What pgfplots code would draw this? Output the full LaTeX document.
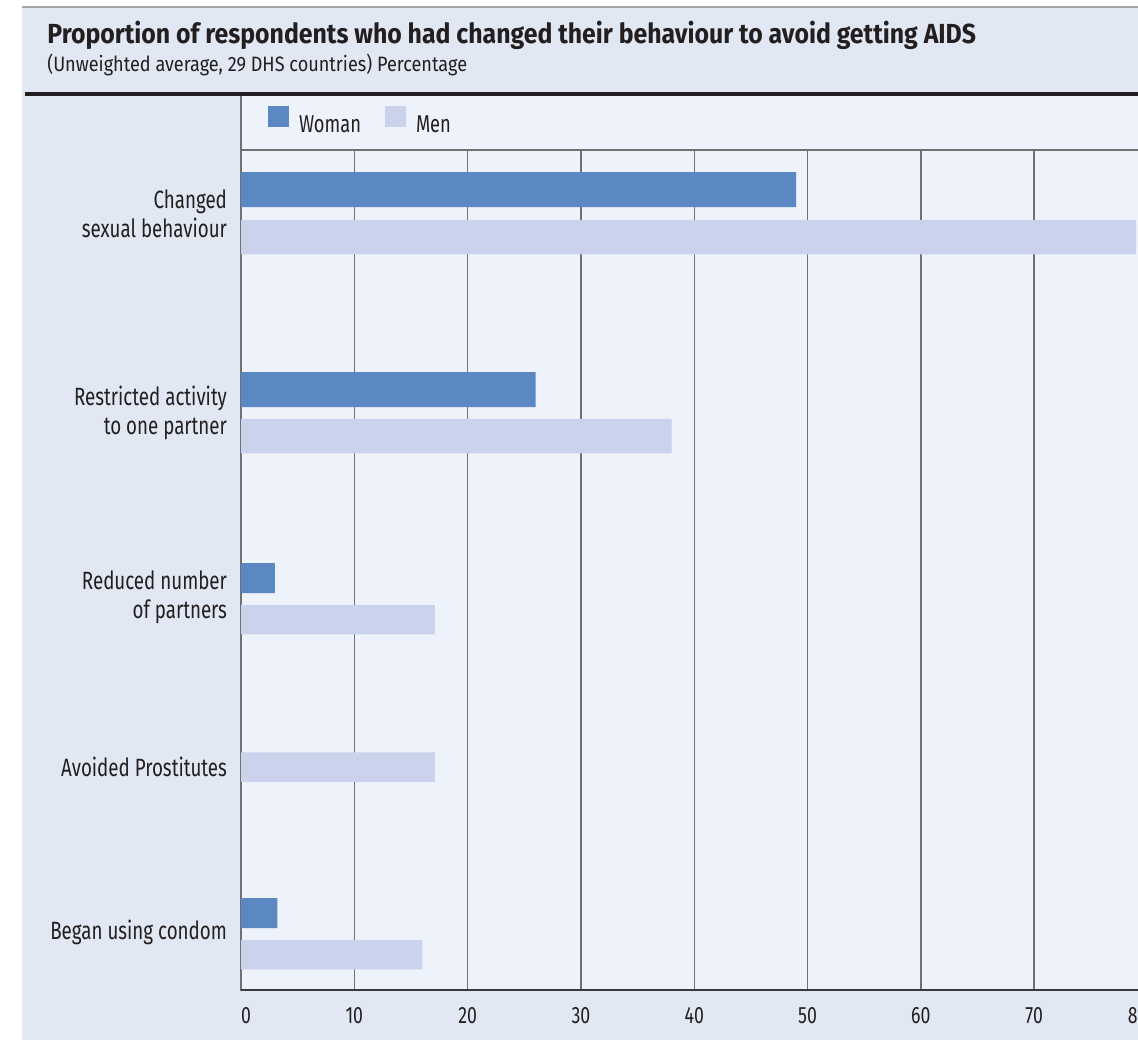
\documentclass[border=0pt]{standalone}
\usepackage{pgfplots}
\pgfplotsset{compat=1.18}
\usepackage{fontspec}
\setmainfont{Fira Sans}[FakeStretch=0.75]
\newfontfamily\titlefont{Fira Sans}[FakeStretch=0.90]
\newfontfamily\subfont{Fira Sans}[FakeStretch=0.87]
\definecolor{outerbg}{HTML}{E1E7F3}
\definecolor{panelbg}{HTML}{EEF2FA}
\definecolor{women}{HTML}{5B87C2}
\definecolor{men}{HTML}{CAD3EB}
\definecolor{textcol}{HTML}{231F20}
\definecolor{gridcol}{HTML}{707070}
\definecolor{axisdark}{HTML}{3A3A3A}
\begin{document}
\begin{tikzpicture}
\useasboundingbox (0,0) rectangle (569pt,520pt);
\begin{scope}[x=0.5pt,y=-0.5pt,yshift=520pt]
\fill[outerbg] (22,7) rectangle (1138,1040);
\draw[gray!70, line width=0.6pt] (22,7) -- (1138,7);
\fill[panelbg] (241,96) rectangle (1138,990);
\fill[textcol] (25,92) rectangle (1138,96);
\draw[gridcol, line width=0.75pt] (241,96) -- (241,150);
\node[anchor=base west, inner sep=0pt, text=textcol, font=\titlefont\fontsize{13.8}{16}\selectfont\bfseries] at (47,44) {Proportion of respondents who had changed their behaviour to avoid getting AIDS};
\node[anchor=base west, inner sep=0pt, text=textcol, font=\subfont\fontsize{10.4}{12}\selectfont] at (47,71.5) {(Unweighted average, 29 DHS countries) Percentage};
\end{scope}
\begin{axis}[
  scale only axis,
  width=453.25pt, height=420pt,
  at={(120.5pt,25pt)}, anchor=south west,
  xmin=0, xmax=80, ymin=150, ymax=990,
  y dir=reverse,
  axis background/.style={fill=none},
  axis line style={gridcol, line width=0.75pt},
  xtick={0,10,20,30,40,50,60,70,80},
  xticklabels={\makebox[0pt][l]{0},10,20,30,40,50,60,70,\makebox[0pt][r]{80}},
  major tick length=0pt,
  xmajorgrids, grid style={gridcol, line width=0.75pt},
  ytick={213.5,413,597.5,767,932},
  yticklabels={{Changed\\sexual behaviour},{Restricted activity\\to one partner},{Reduced number\\of partners},{Avoided Prostitutes},{Began using condom}},
  yticklabel style={align=right, font=\fontsize{12.5}{14.5}\selectfont, text=textcol, xshift=-3.5pt},
  xticklabel style={font=\fontsize{11.8}{14}\selectfont, text=textcol, yshift=-5pt},
  legend style={draw=none, fill=none, at={(axis description cs:0.0298,1)}, anchor=west, yshift=13.5pt,
    legend columns=-1, inner sep=0pt, outer sep=0pt,
    font=\fontsize{12.2}{14.5}\selectfont, text=textcol,
    /tikz/every odd column/.append style={column sep=3pt},
    /tikz/every even column/.append style={column sep=10pt}},
  legend image code/.code={\fill[#1] (0pt,-0.75pt) rectangle (10.5pt,9.75pt);},
]
\addplot[xbar, bar shift=0pt, bar width=35, fill=women, draw=none] coordinates {(49,189.5) (26,389.5)};
\addlegendentry{Woman}
\addplot[xbar, bar shift=0pt, bar width=30, fill=women, draw=none, forget plot] coordinates {(3,578) (3.2,913)};
\addplot[xbar, bar shift=0pt, bar width=34.5, fill=men, draw=none] coordinates {(79,237) (38,436)};
\addlegendentry{Men}
\addplot[xbar, bar shift=0pt, bar width=29.5, fill=men, draw=none, forget plot] coordinates {(17.1,619.5) (17.1,767) (16,954.5)};
\draw[axisdark, line width=0.9pt] (axis cs:0,990) -- (axis cs:80,990);
\end{axis}
\end{tikzpicture}
\end{document}
